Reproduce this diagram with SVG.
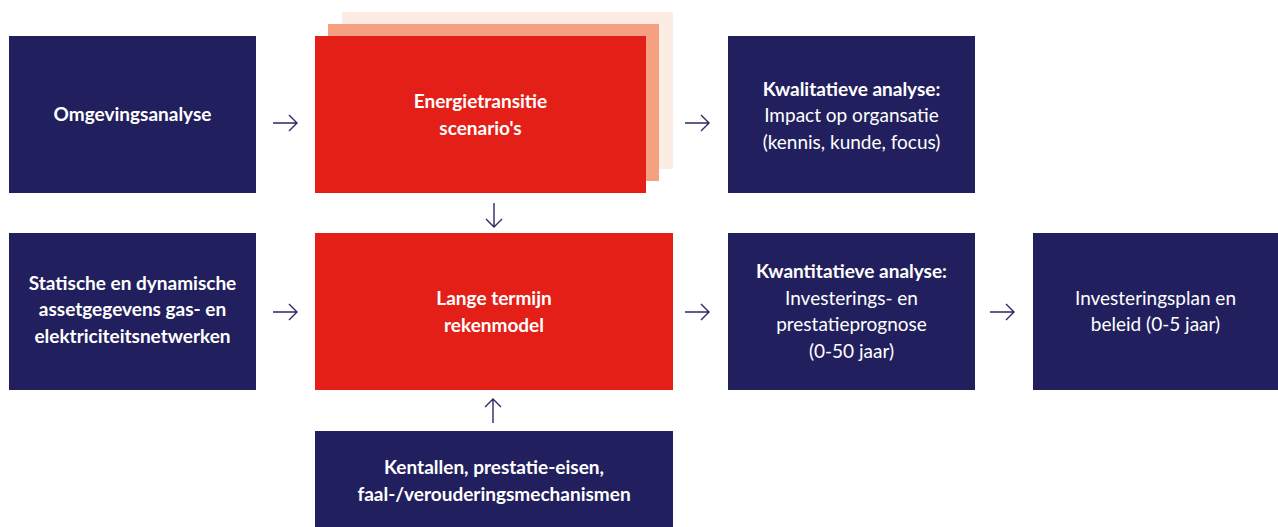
<svg xmlns="http://www.w3.org/2000/svg" width="1278" height="527" viewBox="0 0 1278 527">
<style>
.navy{fill:#221F5E}
.red{fill:#E31F18}
text{font-family:Lato,"Liberation Sans",sans-serif;font-size:19px;fill:#FFFFFF;text-anchor:middle}
.b{font-weight:700}
.r{font-weight:400}
.conn path{fill:none;stroke:#2B2A66;stroke-width:1.4}
</style>
<rect width="1278" height="527" fill="#FFFFFF"/>
<g id="omgevingsanalyse">
<rect class="navy" x="9" y="36" width="247" height="157"/>
<text class="b" x="132.5" y="121">Omgevingsanalyse</text>
</g>
<g id="energietransitie">
<rect x="342" y="12" width="331" height="157" fill="#FDECE4"/>
<rect x="328" y="24" width="331" height="157" fill="#F4A081"/>
<rect class="red" x="315" y="36" width="331" height="157"/>
<text class="b" x="480.5" y="108">Energietransitie</text>
<text class="b" x="480.5" y="135">scenario's</text>
</g>
<g id="kwalitatieve">
<rect class="navy" x="728" y="36" width="247" height="157"/>
<text class="b" x="851.5" y="96">Kwalitatieve analyse:</text>
<text class="r" x="851.5" y="122">Impact op organsatie</text>
<text class="r" x="851.5" y="149">(kennis, kunde, focus)</text>
</g>
<g id="statische">
<rect class="navy" x="9" y="233" width="247" height="157"/>
<text class="b" x="132.5" y="290">Statische en dynamische</text>
<text class="b" x="132.5" y="316">assetgegevens gas- en</text>
<text class="b" x="132.5" y="343">elektriciteitsnetwerken</text>
</g>
<g id="rekenmodel">
<rect class="red" x="315" y="233" width="358" height="157"/>
<text class="b" x="494" y="305">Lange termijn</text>
<text class="b" x="494" y="332">rekenmodel</text>
</g>
<g id="kwantitatieve">
<rect class="navy" x="728" y="233" width="247" height="157"/>
<text class="b" x="851.5" y="278">Kwantitatieve analyse:</text>
<text class="r" x="851.5" y="305">Investerings- en</text>
<text class="r" x="851.5" y="331">prestatieprognose</text>
<text class="r" x="851.5" y="358">(0-50 jaar)</text>
</g>
<g id="investeringsplan">
<rect class="navy" x="1033" y="233" width="245" height="157"/>
<text class="r" x="1155.5" y="305">Investeringsplan en</text>
<text class="r" x="1155.5" y="331">beleid (0-5 jaar)</text>
</g>
<g id="kentallen">
<rect class="navy" x="315" y="431" width="358" height="96"/>
<text class="b" x="494" y="474">Kentallen, prestatie-eisen,</text>
<text class="b" x="494" y="501">faal-/verouderingsmechanismen</text>
</g>
<g id="connectors" class="conn">
<path d="M273 123H297M289 115L297 123L289 131"/>
<path d="M685 123H709M701 115L709 123L701 131"/>
<path d="M273 312H297M289 304L297 312L289 320"/>
<path d="M685 312H709M701 304L709 312L701 320"/>
<path d="M990 312H1014M1006 304L1014 312L1006 320"/>
<path d="M494 203V227M486 219L494 227L502 219"/>
<path d="M493 423V399M485 407L493 399L501 407"/>
</g>
</svg>
